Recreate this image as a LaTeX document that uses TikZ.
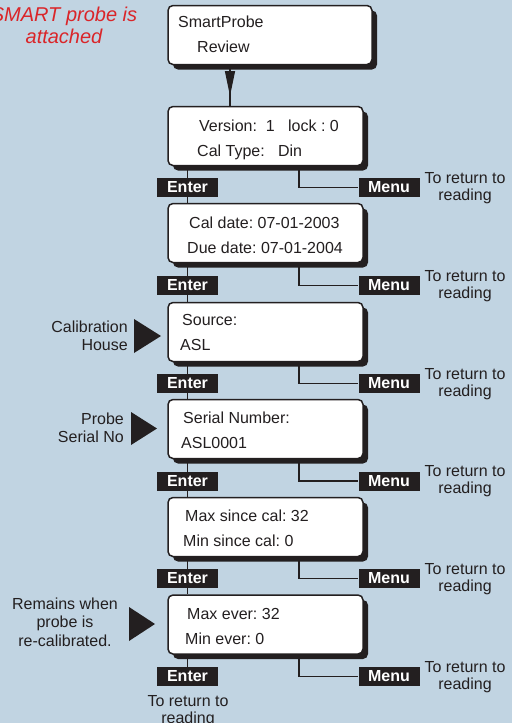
\documentclass[tikz,border=0pt]{standalone}
\usepackage{fontspec}
\setmainfont{Liberation Sans}
\usepackage{tikz}
\usetikzlibrary{calc,shadows,arrows.meta,decorations.markings}
\definecolor{bgblue}{RGB}{193,212,226}
\definecolor{keyblack}{RGB}{35,31,32}
\definecolor{noteRed}{RGB}{218,37,41}
\pgfdeclarelayer{back}
\pgfsetlayers{back,main}
\frenchspacing

\begin{document}
\begin{tikzpicture}[x=1pt, y=-1pt,
		screen/.style={draw=keyblack, line width=1.5pt, fill=white, rounded corners=5pt,
			drop shadow={shadow xshift=5pt, shadow yshift=-5pt, fill=keyblack, opacity=1},
			minimum height=59pt, inner sep=0pt},
		scrtext/.style={anchor=base west, align=left, inner sep=0pt, text=keyblack, font=\fontsize{16}{25}\selectfont},
		keybox/.style={fill=keyblack, text=white, minimum width=61pt, minimum height=19pt, inner sep=0pt, font=\fontsize{16}{16}\selectfont\bfseries},
		returnnote/.style={anchor=base, align=center, inner sep=0pt, text=keyblack, font=\fontsize{16}{17}\selectfont},
		sidenote/.style={anchor=base east, align=right, inner sep=0pt, text=keyblack, font=\fontsize{16}{18}\selectfont},
		pointer/.style={fill=keyblack},
		wire/.style={draw=keyblack, line width=1.2pt}]
			%%%%% START %%%%%
			
			\useasboundingbox (0, 0) rectangle (512, 723);
			
			\node[anchor=base, align=center, inner sep=0pt, text=noteRed, font=\fontsize{20}{22.5}\selectfont\itshape] (attached) at (64, 43.5) {SMART probe is\\attached};
			
			\node[screen, minimum width=204pt] (review) at (270, 35) {};
			\node[scrtext] (reviewtxt) at (178, 52) {SmartProbe\\\hspace*{19pt}Review};
			
			\node[screen, minimum width=195pt] (version) at (265.5, 136) {};
			\node[scrtext] (versiontxt) at (197, 156) {\hspace*{2pt}Version:\ \ 1\ \ \ lock : 0\\Cal Type:\ \ \ Din};
			
			\node[screen, minimum width=195pt] (caldate) at (265.5, 233) {};
			\node[scrtext] (caldatetxt) at (187, 253) {\hspace*{2pt}Cal date: 07-01-2003\\Due date: 07-01-2004};
			
			\node[screen, minimum width=195pt] (source) at (265.5, 332) {};
			\node[scrtext] (sourcetxt) at (180, 350) {\hspace*{2pt}Source:\\ASL};
			
			\node[screen, minimum width=195pt] (serial) at (265.5, 429) {};
			\node[scrtext] (serialtxt) at (181, 448) {\hspace*{2pt}Serial Number:\\ASL0001};
			
			\node[screen, minimum width=195pt] (sincecal) at (265.5, 527) {};
			\node[scrtext] (sincecaltxt) at (183, 546) {\hspace*{2pt}Max since cal: 32\\Min since cal: 0};
			
			\node[screen, minimum width=195pt] (ever) at (265.5, 624.5) {};
			\node[scrtext] (evertxt) at (185, 644) {\hspace*{2pt}Max ever: 32\\Min ever: 0};
			
			\node[keybox] (e1) at (187.5, 187.5) {Enter};
			\node[keybox] (e2) at (187.5, 285.5) {Enter};
			\node[keybox] (e3) at (187.5, 383.5) {Enter};
			\node[keybox] (e4) at (187.5, 481) {Enter};
			\node[keybox] (e5) at (187.5, 578.5) {Enter};
			\node[keybox] (e6) at (187.5, 676.5) {Enter};
			
			\node[keybox] (m1) at (389, 187.5) {Menu};
			\node[keybox] (m2) at (389, 285.5) {Menu};
			\node[keybox] (m3) at (389, 383.5) {Menu};
			\node[keybox] (m4) at (389, 481) {Menu};
			\node[keybox] (m5) at (389, 578.5) {Menu};
			\node[keybox] (m6) at (389, 676.5) {Menu};
			
			\node[returnnote] (r1) at (465, 200) {To return to\\reading};
			\node[returnnote] (r2) at (465, 298) {To return to\\reading};
			\node[returnnote] (r3) at (465, 396) {To return to\\reading};
			\node[returnnote] (r4) at (465, 493.5) {To return to\\reading};
			\node[returnnote] (r5) at (465, 591) {To return to\\reading};
			\node[returnnote] (r6) at (465, 689) {To return to\\reading};
			\node[returnnote] (r7) at (188, 723) {To return to\\reading};
			
			\node[sidenote] (calhouse) at (128, 350) {Calibration\\House};
			\fill[pointer] (134, 319) -- (134, 353) -- (161, 336) -- cycle;
			
			\node[sidenote] (probeno) at (124, 442) {Probe\\Serial No};
			\fill[pointer] (131, 412) -- (131, 445) -- (157, 428.5) -- cycle;
			
			\node[anchor=base, align=center, inner sep=0pt, text=keyblack, font=\fontsize{16}{18.5}\selectfont] (remains) at (65, 646) {Remains when\\probe is\\re-calibrated.};
			\fill[pointer] (129, 607) -- (129, 641) -- (155, 624) -- cycle;
			
			\begin{pgfonlayer}{back}
			\fill[bgblue] (0, 0) rectangle (512, 723);
			
			\draw[wire, decoration={markings, mark=at position 0.76 with {\arrow{Triangle[length=25pt, width=10pt]}}}, postaction={decorate}]
				([xshift=-40pt]review.south) -- ([xshift=-40pt]review.south |- version.north);
			
			\draw[wire] (e1 |- version.south) -- (e1 |- caldate.north);
			\draw[wire] (e2 |- caldate.south) -- (e2 |- source.north);
			\draw[wire] (e3 |- source.south) -- (e3 |- serial.north);
			\draw[wire] (e4 |- serial.south) -- (e4 |- sincecal.north);
			\draw[wire] (e5 |- sincecal.south) -- (e5 |- ever.north);
			\draw[wire] (e6 |- ever.south) -- (e6.north);
			
			\draw[wire] ([xshift=33.5pt]version.south) |- (m1.west);
			\draw[wire] ([xshift=33.5pt]caldate.south) |- (m2.west);
			\draw[wire] ([xshift=33.5pt]source.south) |- (m3.west);
			\draw[wire] ([xshift=33.5pt]serial.south) |- (m4.west);
			\draw[wire] ([xshift=33.5pt]sincecal.south) |- (m5.west);
			\draw[wire] ([xshift=33.5pt]ever.south) |- (m6.west);
			\end{pgfonlayer}
			
			%%%%% END %%%%%
\end{tikzpicture}
\end{document}
